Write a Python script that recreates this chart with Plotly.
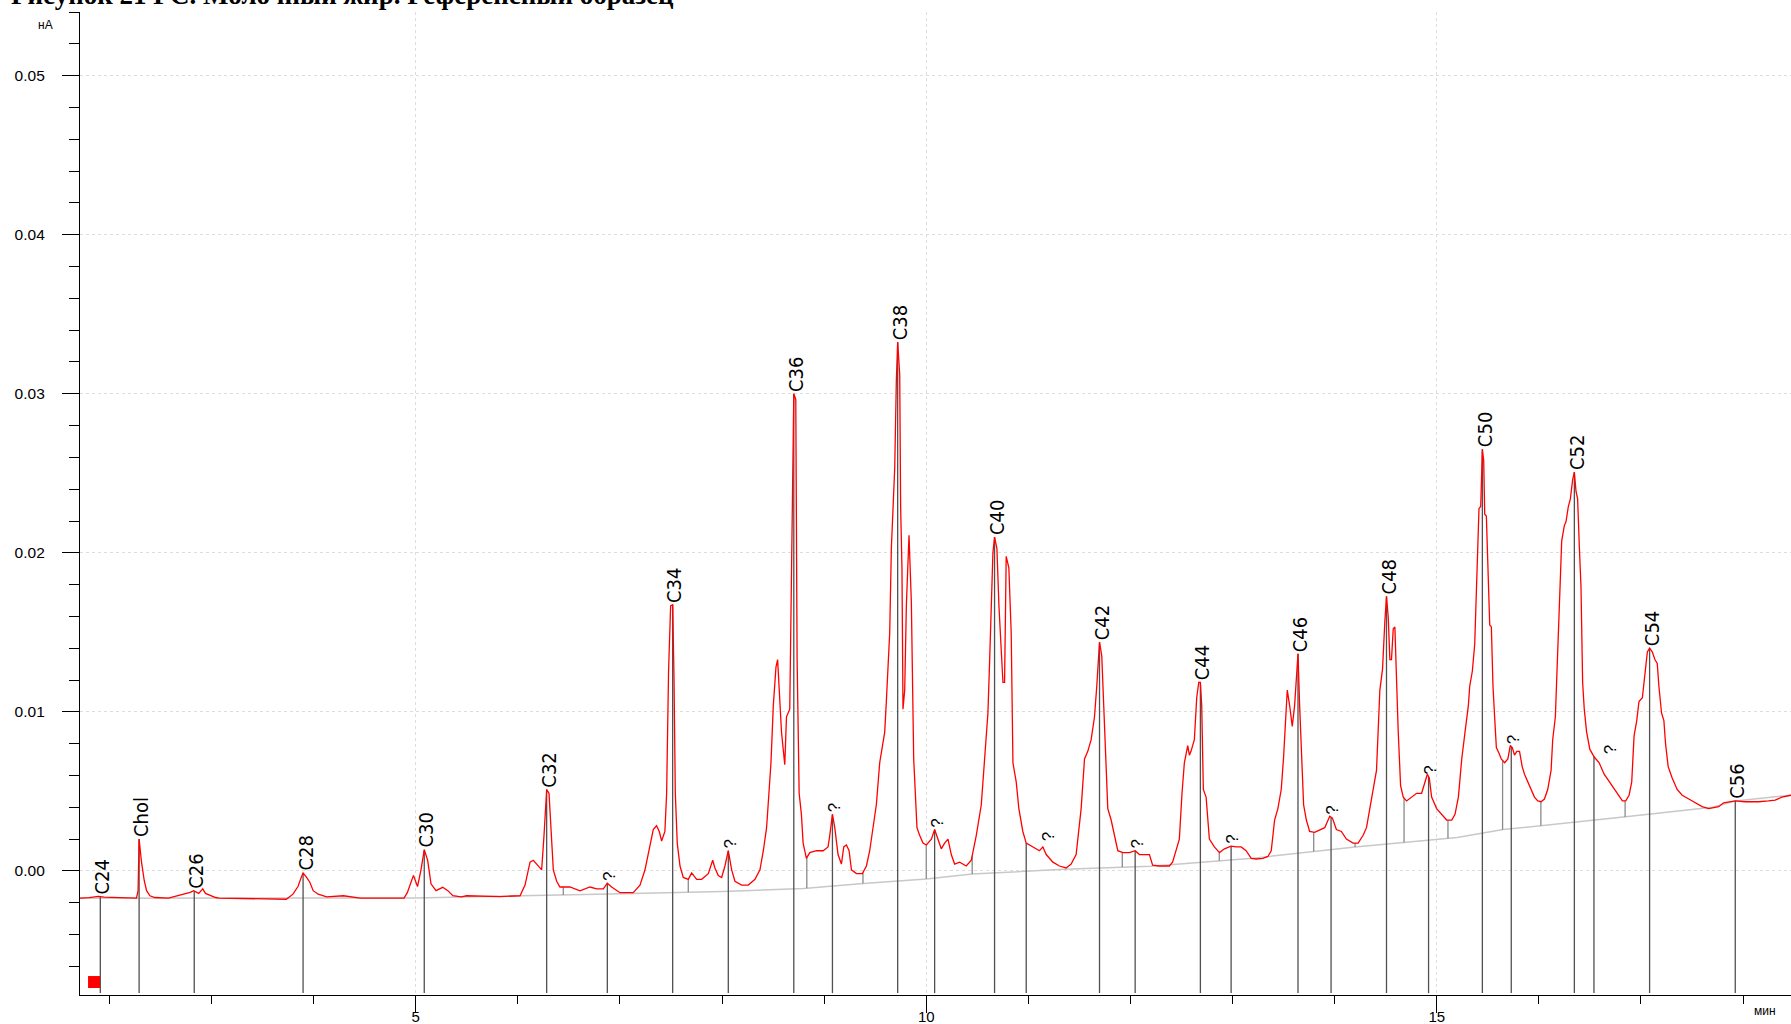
import numpy as np
import plotly.graph_objects as go

# ---------------- data (time in min, signal in nA) ----------------
sig_t = [
    1.711, 1.80, 1.891, 1.95, 2.10, 2.264, 2.280, 2.290, 2.313, 2.340, 2.363, 2.396, 2.445, 2.577,
    2.791, 2.824, 2.874, 2.913, 2.940, 2.989, 3.039, 3.072, 3.467, 3.731, 3.797, 3.846, 3.879,
    3.896, 3.929, 3.962, 3.995, 4.044, 4.127, 4.291, 4.456, 4.885, 4.918, 4.977, 5.017, 5.050,
    5.083, 5.116, 5.149, 5.198, 5.264, 5.314, 5.363, 5.445,
    5.498, 5.825, 6.021, 6.070, 6.119, 6.151, 6.184, 6.233, 6.256, 6.282, 6.305, 6.321, 6.347,
    6.380, 6.412, 6.510, 6.608, 6.706, 6.772, 6.837, 6.876, 6.918, 7.000, 7.130, 7.196, 7.245,
    7.294, 7.326, 7.358, 7.385, 7.408, 7.440, 7.457, 7.476, 7.496, 7.516, 7.529, 7.542, 7.561,
    7.588, 7.620, 7.669, 7.702, 7.751, 7.800, 7.865, 7.908, 7.930, 7.963, 7.996, 8.028, 8.061,
    8.094, 8.126, 8.192, 8.257, 8.322, 8.371, 8.404, 8.436, 8.459, 8.479, 8.502, 8.528, 8.544,
    8.582, 8.614, 8.631, 8.663, 8.680, 8.689, 8.7025, 8.722, 8.735, 8.755, 8.777, 8.794, 8.826,
    8.859, 8.924, 8.990, 9.038, 9.055, 9.081, 9.104, 9.136, 9.169, 9.192, 9.218, 9.244, 9.267,
    9.316, 9.374, 9.414, 9.446, 9.479, 9.511, 9.544, 9.593, 9.609, 9.642, 9.658, 9.691, 9.707,
    9.720, 9.740, 9.749, 9.762, 9.772, 9.789, 9.805, 9.831, 9.854, 9.877, 9.893, 9.909, 9.935,
    9.968, 10.001, 10.050, 10.082, 10.115, 10.147, 10.180, 10.213, 10.245, 10.278, 10.327,
    10.392, 10.441, 10.490, 10.539, 10.571, 10.604, 10.620, 10.637, 10.653, 10.669, 10.692,
    10.712, 10.734, 10.751, 10.767, 10.783, 10.809, 10.832, 10.849, 10.881, 10.907, 10.946,
    10.979, 11.044, 11.109, 11.142, 11.175, 11.240, 11.305, 11.370, 11.419, 11.468, 11.517,
    11.550, 11.582, 11.615, 11.648, 11.670, 11.697, 11.719, 11.739, 11.778, 11.811, 11.843,
    11.876, 11.925, 11.990, 12.046, 12.088, 12.186,
    12.217, 12.282, 12.381, 12.413, 12.446, 12.479, 12.505, 12.528, 12.561, 12.577, 12.593,
    12.626, 12.649, 12.669, 12.685, 12.698, 12.714, 12.741, 12.773, 12.822, 12.872, 12.921,
    12.986, 13.035, 13.084, 13.133, 13.183, 13.232, 13.297, 13.346, 13.379, 13.412, 13.444,
    13.477, 13.500, 13.520, 13.536, 13.559, 13.585, 13.608, 13.624, 13.641, 13.657, 13.674,
    13.696, 13.723, 13.755, 13.804, 13.854, 13.903, 13.952, 13.978, 14.017, 14.066, 14.115,
    14.181, 14.230, 14.279, 14.312, 14.345, 14.377, 14.410, 14.443, 14.469, 14.492, 14.508,
    14.525, 14.541, 14.557, 14.574, 14.590, 14.606, 14.623, 14.646, 14.672, 14.705, 14.754,
    14.803, 14.852, 14.885, 14.908, 14.927, 14.950, 14.999, 15.048, 15.097, 15.147, 15.179,
    15.212, 15.245, 15.277, 15.310,
    15.323, 15.349, 15.372, 15.395, 15.414, 15.431, 15.441, 15.447, 15.460, 15.470, 15.486,
    15.502, 15.519, 15.535, 15.551, 15.567, 15.584, 15.610, 15.632, 15.665, 15.697, 15.720,
    15.740, 15.762, 15.785, 15.811, 15.837, 15.860, 15.892, 15.925, 15.957, 15.990, 16.022,
    16.055, 16.087, 16.120, 16.136, 16.162, 16.175, 16.191, 16.201, 16.224, 16.250, 16.266,
    16.289, 16.309, 16.331, 16.348, 16.364, 16.380, 16.396, 16.413, 16.429, 16.445, 16.468,
    16.500, 16.543, 16.591, 16.640, 16.689, 16.738, 16.786, 16.819, 16.851, 16.884, 16.910,
    16.933, 16.959, 16.981, 17.014, 17.037, 17.063, 17.085, 17.111, 17.137, 17.160, 17.176,
    17.202, 17.225, 17.241, 17.267, 17.306, 17.355, 17.404, 17.469, 17.534, 17.599, 17.664,
    17.713, 17.762, 17.810, 17.859, 17.924, 18.022, 18.152, 18.250, 18.315, 18.380, 18.470,
]
sig_y = [
    -0.00171, -0.00168, -0.00160, -0.00165, -0.00168, -0.00171, -0.00124, 0.00201, 0.00058,
    -0.00060, -0.00124, -0.00156, -0.00167, -0.00171, -0.00135, -0.00124, -0.00141, -0.00113,
    -0.00141, -0.00156, -0.00167, -0.00171, -0.00178, -0.00178, -0.00146, -0.00098, -0.00039,
    -0.00013, -0.00039, -0.00071, -0.00124, -0.00146, -0.00163, -0.00156, -0.00171, -0.00171,
    -0.00135, -0.00028, -0.00098, 0.00004, 0.00133, 0.00068, -0.00081, -0.00124, -0.00103,
    -0.00124, -0.00156, -0.00163,
    -0.00156, -0.00161, -0.00156, -0.00089, 0.00055, 0.00067, 0.00043, 0.00007, 0.00224,
    0.00512, 0.00488, 0.00272, 0.00007, -0.00065, -0.00101, -0.00101, -0.00125, -0.00101,
    -0.00113, -0.00113, -0.00077, -0.00101, -0.00137, -0.00137, -0.00089, 0.00007, 0.00151,
    0.00260, 0.00284, 0.00248, 0.00188, 0.00248, 0.00488, 0.01257, 0.01666, 0.01673, 0.01221,
    0.00488, 0.00175, 0.00031, -0.00041, -0.00053, -0.00012, -0.00053, -0.00053, -0.00017,
    0.00067, 0.00019, -0.00029, -0.00041, 0.00031, 0.00127, 0.00007, -0.00065, -0.00089,
    -0.00089, -0.00053, 0.00007, 0.00127, 0.00272, 0.00488, 0.00680, 0.01041, 0.01281, 0.01329,
    0.00873, 0.00668, 0.00969, 0.01017, 0.01858, 0.02471, 0.03000, 0.02964, 0.01329, 0.00488,
    0.00356, 0.00175, 0.00079, 0.00115, 0.00127, 0.00127, 0.00151, 0.00224, 0.00356, 0.00272,
    0.00103, 0.00043, 0.00151, 0.00163, 0.00127, 0.00007, -0.00017, -0.00017, 0.00031, 0.00127,
    0.00272, 0.00416, 0.00680, 0.00873, 0.01065, 0.01498, 0.02026, 0.02531, 0.03084, 0.03325,
    0.03120, 0.02291, 0.01906, 0.01017, 0.01137, 0.01666, 0.02111, 0.01690, 0.00704, 0.00464,
    0.00272, 0.00224, 0.00175, 0.00163, 0.00200, 0.00260, 0.00200, 0.00139, 0.00175, 0.00200,
    0.00103, 0.00043, 0.00055, 0.00031, 0.00067, 0.00224, 0.00416, 0.00704, 0.00993, 0.01305,
    0.01666, 0.02002, 0.02099, 0.02026, 0.01666, 0.01377, 0.01185, 0.01185, 0.01978, 0.01906,
    0.01498, 0.00680, 0.00560, 0.00392, 0.00248, 0.00175, 0.00151, 0.00127, 0.00151, 0.00103,
    0.00055, 0.00031, 0.00019, 0.00043, 0.00103, 0.00392, 0.00704, 0.00752, 0.00825, 0.00969,
    0.01161, 0.01438, 0.01353, 0.01017, 0.00392, 0.00320, 0.00224, 0.00127, 0.00115, 0.00115,
    0.00127, 0.00103, 0.00103,
    0.00036, 0.00031, 0.00031, 0.00055, 0.00127, 0.00200, 0.00488, 0.00680, 0.00788, 0.00728,
    0.00752, 0.00825, 0.01089, 0.01185, 0.01185, 0.01041, 0.00512, 0.00464, 0.00200, 0.00151,
    0.00115, 0.00139, 0.00156, 0.00151, 0.00151, 0.00127, 0.00079, 0.00075, 0.00079, 0.00091,
    0.00127, 0.00320, 0.00392, 0.00512, 0.00716, 0.00993, 0.01137, 0.01041, 0.00909, 0.01041,
    0.01221, 0.01365, 0.01041, 0.00728, 0.00416, 0.00320, 0.00248, 0.00243, 0.00260, 0.00272,
    0.00344, 0.00332, 0.00260, 0.00248, 0.00200, 0.00175, 0.00175, 0.00224, 0.00272, 0.00392,
    0.00512, 0.00632, 0.01137, 0.01269, 0.01570, 0.01726, 0.01594, 0.01329, 0.01329, 0.01522,
    0.01534, 0.01185, 0.00873, 0.00536, 0.00464, 0.00440, 0.00464, 0.00488, 0.00488, 0.00560,
    0.00608, 0.00584, 0.00464, 0.00392, 0.00356, 0.00320, 0.00320, 0.00356, 0.00464, 0.00704,
    0.00873, 0.01041,
    0.01161, 0.01257, 0.01425, 0.01954, 0.02279, 0.02291, 0.02579, 0.02651, 0.02579, 0.02243,
    0.02231, 0.01906, 0.01546, 0.01534, 0.01161, 0.00969, 0.00776, 0.00740, 0.00704, 0.00680,
    0.00704, 0.00788, 0.00776, 0.00728, 0.00752, 0.00752, 0.00656, 0.00608, 0.00560, 0.00512,
    0.00464, 0.00440, 0.00435, 0.00452, 0.00512, 0.00632, 0.00825, 0.00969, 0.01209, 0.01450,
    0.01690, 0.02075, 0.02171, 0.02195, 0.02291, 0.02339, 0.02459, 0.02507, 0.02387, 0.02339,
    0.02051, 0.01786, 0.01185, 0.01017, 0.00873, 0.00764, 0.00716, 0.00680, 0.00608, 0.00560,
    0.00512, 0.00464, 0.00440, 0.00440, 0.00476, 0.00560, 0.00849, 0.00945, 0.01065, 0.01089,
    0.01209, 0.01377, 0.01401, 0.01377, 0.01329, 0.01305, 0.01161, 0.00993, 0.00945, 0.00800,
    0.00656, 0.00584, 0.00512, 0.00476, 0.00452, 0.00428, 0.00404, 0.00392, 0.00397, 0.00404,
    0.00428, 0.00435, 0.00440, 0.00435, 0.00435, 0.00440, 0.00445, 0.00464, 0.00476,
]

base_t = [1.711, 5.0, 6.9, 8.0, 8.8, 9.35, 10.0, 10.45, 11.35, 12.2, 13.2, 14.2, 15.2, 15.65,
          16.85, 17.7, 17.924, 18.47]
base_y = [-0.00172, -0.0017, -0.00145, -0.0013, -0.0011, -0.0008, -0.0005, -0.0002, 0.0001,
          0.0003, 0.0008, 0.0015, 0.0021, 0.0026, 0.0034, 0.0040, 0.0044, 0.00476]

peak_names = ["C24", "Chol", "C26", "C28", "C30", "C32", "?", "C34", "?", "C36", "?", "C38", "?",
              "C40", "?", "C42", "?", "C44", "?", "C46", "?", "C48", "?", "C50", "?", "C52", "?",
              "C54", "C56"]
peak_times = [1.91, 2.29, 2.83, 3.896, 5.083, 6.282, 6.876, 7.516, 8.061, 8.7025, 9.081, 9.72,
              10.082, 10.669, 10.979, 11.697, 12.046, 12.685, 12.986, 13.641, 13.965, 14.508,
              14.92, 15.447, 15.73, 16.348, 16.54, 17.085, 17.924]
label_times = [1.91, 2.29, 2.83, 3.896, 5.083, 6.282, 6.876, 7.516, 8.061, 8.7025, 9.081, 9.72,
               10.082, 10.669, 11.18, 11.697, 12.046, 12.685, 12.986, 13.641, 13.965, 14.508,
               14.92, 15.447, 15.73, 16.348, 16.68, 17.085, 17.924]
drop_times = [6.445, 7.669, 8.83, 9.38, 10.0, 10.45, 11.92, 12.87, 13.795, 14.2, 14.68, 15.11,
              15.645, 16.02, 16.845]

x_range = [1.711, 18.47]
y_range = [-0.0078, 0.054]

# ---------------- build ----------------
st = np.array(sig_t)
sy = np.array(sig_y)
bt = np.array(base_t)
by = np.array(base_y)
y_bottom = y_range[0] + 0.00012

long_x, long_y = [], []
for t in peak_times:
    long_x += [t, t, None]
    long_y += [float(np.interp(t, st, sy)), y_bottom, None]

short_x, short_y = [], []
for t in drop_times:
    short_x += [t, t, None]
    short_y += [float(np.interp(t, st, sy)), float(np.interp(t, bt, by)), None]

fig = go.Figure()
fig.add_trace(go.Scatter(x=base_t, y=base_y, mode="lines",
                         line=dict(color="#c8c8c8", width=1.5), hoverinfo="skip"))
fig.add_trace(go.Scatter(x=short_x, y=short_y, mode="lines",
                         line=dict(color="#8a8a8a", width=1.3), hoverinfo="skip"))
fig.add_trace(go.Scatter(x=long_x, y=long_y, mode="lines",
                         line=dict(color="#505050", width=1.3), hoverinfo="skip"))
fig.add_trace(go.Scatter(x=sig_t, y=sig_y, mode="lines",
                         line=dict(color="#ff0000", width=1.3), hoverinfo="skip"))

for name, t_line, t_lab in zip(peak_names, peak_times, label_times):
    ylab = max(float(np.interp(t_line, st, sy)), float(np.interp(t_lab, st, sy)))
    if name == "?":
        font = dict(family="Liberation Sans, Arial", size=17, color="black")
    else:
        font = dict(family="DejaVu Sans Condensed, Liberation Sans, Arial", size=20,
                    color="black")
    fig.add_annotation(x=t_lab, y=ylab, xref="x", yref="y", text=name, showarrow=False,
                       textangle=-90, xanchor="center", yanchor="bottom", yshift=1, xshift=2,
                       font=font, borderpad=0)

# title (clipped at top, as in the original figure)
fig.add_annotation(xref="paper", yref="paper", x=-0.0415, y=1, xanchor="left", yanchor="bottom",
                   yshift=0, showarrow=False,
                   text="<b>Рисунок 21 ГС. Молочный жир. Референсный образец</b>",
                   font=dict(family="Liberation Serif, Times New Roman", size=27, color="black"))
# axis units
fig.add_annotation(xref="paper", yref="paper", x=-0.0202, y=0.9865, xanchor="center",
                   yanchor="middle", showarrow=False, text="нА",
                   font=dict(family="Liberation Sans, Arial", size=12, color="black"))
fig.add_annotation(xref="paper", yref="paper", x=0.985, y=-0.0163, xanchor="center",
                   yanchor="middle", showarrow=False, text="мин",
                   font=dict(family="Liberation Sans, Arial", size=12, color="black"))
# red channel marker
fig.add_shape(type="rect", xref="paper", yref="paper", x0=0.0047, x1=0.0117, y0=0.0071,
              y1=0.0193, fillcolor="#ff0000", line=dict(width=0))

axis_common = dict(showline=True, linecolor="black", linewidth=1.3, ticks="outside",
                   tickcolor="black", tickwidth=1.3, ticklen=17, zeroline=False,
                   automargin=False,
                   showgrid=True, gridcolor="#dddddd", griddash="dot", gridwidth=1)
fig.update_xaxes(range=x_range, tick0=0, dtick=5, ticklabelstandoff=-9,
                 tickfont=dict(family="Liberation Sans, Arial", size=15, color="black"),
                 minor=dict(dtick=1, tick0=0, ticks="outside", ticklen=8, tickcolor="black",
                            tickwidth=1.3, showgrid=False),
                 **axis_common)
fig.update_yaxes(range=y_range, tick0=0, dtick=0.01, tickformat=".2f", ticklabelstandoff=14,
                 tickfont=dict(family="Liberation Sans, Arial", size=15.5, color="black"),
                 minor=dict(dtick=0.002, tick0=0, ticks="outside", ticklen=10,
                            tickcolor="black", tickwidth=1.3, showgrid=False),
                 **axis_common)
fig.update_layout(width=1791, height=1024, margin=dict(l=80, r=0, t=12, b=29),
                  paper_bgcolor="white", plot_bgcolor="white", showlegend=False,
                  hovermode=False)
fig.write_html("out.html", config={"displayModeBar": False},
               post_script="document.body.style.margin='0';document.body.style.overflow='hidden';")
